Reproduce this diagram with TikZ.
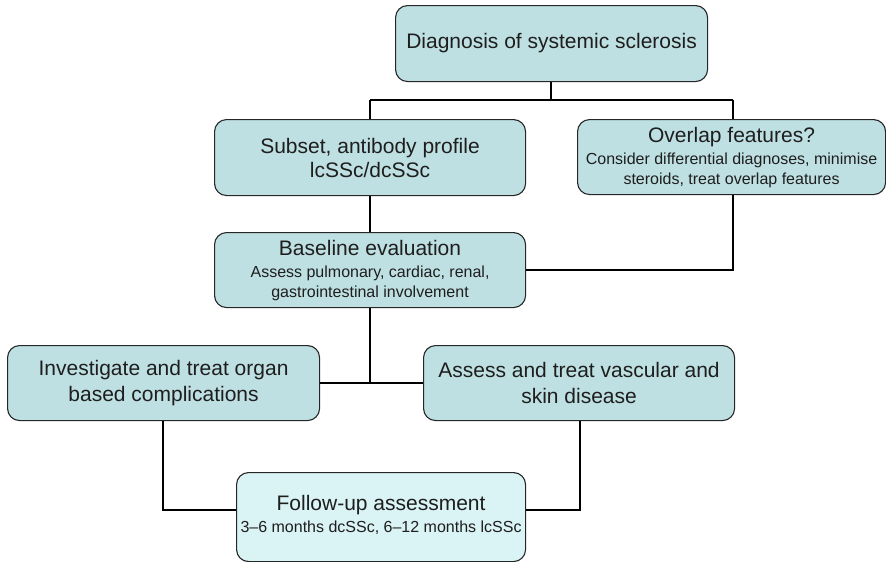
\documentclass[tikz,border=0pt]{standalone}
\usepackage{fontspec}
\setmainfont{Liberation Sans}
\definecolor{boxfill}{RGB}{191,224,227}
\definecolor{lightfill}{RGB}{218,243,244}
\definecolor{txt}{RGB}{30,30,30}
\newcommand{\bigt}{\fontsize{21}{24}\selectfont}
\newcommand{\smallt}{\fontsize{16}{19}\selectfont}
\begin{document}
\begin{tikzpicture}[x=1pt,y=-1pt,
  flowbox/.style={draw=black!85, line width=1.1pt, rounded corners=12pt, fill=boxfill,
    inner sep=0pt, align=center, text=txt, anchor=north west, font=\bigt},
  conn/.style={line width=1.8pt, black}]
\useasboundingbox (0,0) rectangle (886,562);
% boxes
\node[flowbox, minimum width=312pt, minimum height=76pt] (diag) at (395,5)
  {Diagnosis of systemic sclerosis};
\node[flowbox, minimum width=311pt, minimum height=76pt] (subset) at (214,119)
  {Subset, antibody profile\\ lcSSc/dcSSc};
\node[flowbox, minimum width=308pt, minimum height=75pt] (overlap) at (577,119)
  {Overlap features?\\[-2pt] {\smallt Consider differential diagnoses, minimise}\\[-4pt] {\smallt steroids, treat overlap features}};
\node[flowbox, minimum width=311pt, minimum height=75pt] (base) at (214,232)
  {Baseline evaluation\\[-2pt] {\smallt Assess pulmonary, cardiac, renal,}\\[-4pt] {\smallt gastrointestinal involvement}};
\node[flowbox, minimum width=312pt, minimum height=75pt] (organ) at (7,345)
  {Investigate and treat organ\\[2pt] based complications};
\node[flowbox, minimum width=311pt, minimum height=75pt] (vasc) at (423,345)
  {Assess and treat vascular and\\[2pt] skin disease};
\node[flowbox, fill=lightfill, minimum width=289pt, minimum height=89pt, text depth=6pt] (follow) at (236,472)
  {Follow-up assessment\\[-2pt] {\smallt 3–6 months dcSSc, 6–12 months lcSSc}};
% junction coordinates
\coordinate (j1) at (551,100);
\coordinate (jl) at (370,100);
\coordinate (jr) at (733,100);
\coordinate (j2) at (370,383);
% connectors
\draw[conn] (diag.south -| j1) -- (j1);
\draw[conn] (jl) -- (jr);
\draw[conn] (jl) -- (subset.north -| jl);
\draw[conn] (jr) -- (overlap.north -| jr);
\draw[conn] (subset.south -| jl) -- (base.north -| jl);
\draw[conn] (overlap.south -| jr) |- (base.east |- 0,270);
\draw[conn] (base.south -| j2) -- (j2);
\draw[conn] (organ.east |- j2) -- (vasc.west |- j2);
\draw[conn] (organ.south -| 163,0) |- (follow.west |- 0,510);
\draw[conn] (vasc.south -| 580,0) |- (follow.east |- 0,510);
\end{tikzpicture}
\end{document}
